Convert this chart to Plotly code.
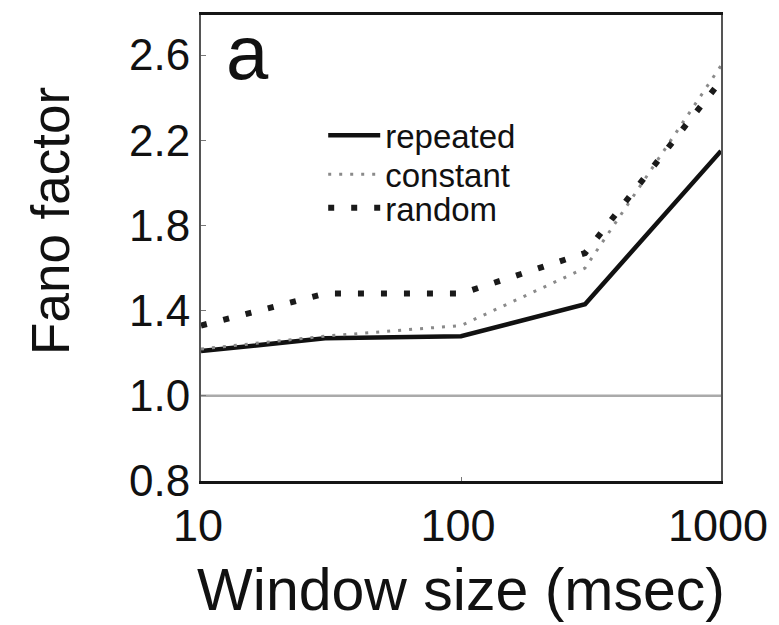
import plotly.graph_objects as go

# Data
windows = [10, 30, 100, 300, 1000]
repeated = [1.21, 1.27, 1.28, 1.43, 2.15]
constant = [1.22, 1.28, 1.33, 1.60, 2.55]
random_ = [1.33, 1.48, 1.48, 1.67, 2.48]

# Y ticks: evenly spaced in the original figure (bottom one printed as "0.8")
y_tickvals = [0.6, 1.0, 1.4, 1.8, 2.2, 2.6]
y_ticktext = ["0.8", "1.0", "1.4", "1.8", "2.2", "2.6"]
x_tickvals = [10, 100, 1000]
x_ticktext = ["10", "100", "1000"]

FONT = "Liberation Sans, Arial, sans-serif"

fig = go.Figure()
fig.add_trace(go.Scatter(x=windows, y=repeated, mode="lines", name="repeated",
                         legend="legend",
                         line=dict(color="#111111", width=4.5)))
fig.add_trace(go.Scatter(x=windows, y=constant, mode="lines", name="constant",
                         legend="legend2",
                         line=dict(color="#8a8a8a", width=3, dash="3px,8px")))
fig.add_trace(go.Scatter(x=windows, y=random_, mode="lines", name="random",
                         legend="legend3",
                         line=dict(color="#1a1a1a", width=6, dash="6px,17px")))

fig.add_hline(y=1.0, line=dict(color="#aaaaaa", width=2.5), layer="below")

leg_common = dict(x=0.235, xanchor="left", yanchor="middle",
                  bgcolor="rgba(0,0,0,0)", font=dict(size=33, family=FONT),
                  itemwidth=52)

fig.update_layout(
    width=779, height=625,
    margin=dict(l=193, r=66, t=7, b=152),
    paper_bgcolor="white", plot_bgcolor="white",
    font=dict(family=FONT, color="#111111"),
    showlegend=True,
    legend=dict(y=0.742, **leg_common),
    legend2=dict(y=0.658, **leg_common),
    legend3=dict(y=0.586, **leg_common),
    xaxis=dict(type="log", range=[1, 3], tickvals=x_tickvals, ticktext=x_ticktext,
               automargin=False,
               showgrid=False, zeroline=False, showline=True, linecolor="#151515",
               linewidth=3, mirror=True, ticks="inside", ticklen=4, tickcolor="#777777",
               tickfont=dict(size=45, family=FONT), ticklabelstandoff=3,
               ticklabelshift=-3,
               title=dict(text="Window size (msec)", font=dict(size=59, family=FONT),
                          standoff=19)),
    yaxis=dict(range=[0.6, 2.788], tickvals=y_tickvals, ticktext=y_ticktext,
               automargin=False,
               showgrid=False, zeroline=False, showline=True, linecolor="#555555",
               linewidth=2, mirror=True, ticks="inside", ticklen=5, tickcolor="#777777",
               tickfont=dict(size=44, family=FONT), ticklabelstandoff=0),
)

fig.add_annotation(text="Fano factor", xref="paper", yref="paper",
                   x=-0.35, y=0.557, textangle=-90, showarrow=False,
                   font=dict(size=53, family=FONT, color="#111111"))
fig.add_annotation(text="a", xref="paper", yref="paper", x=0.045, y=1.015,
                   xanchor="left", yanchor="top", showarrow=False,
                   font=dict(size=76, family=FONT, color="#111111"))

fig.write_html("out.html")
